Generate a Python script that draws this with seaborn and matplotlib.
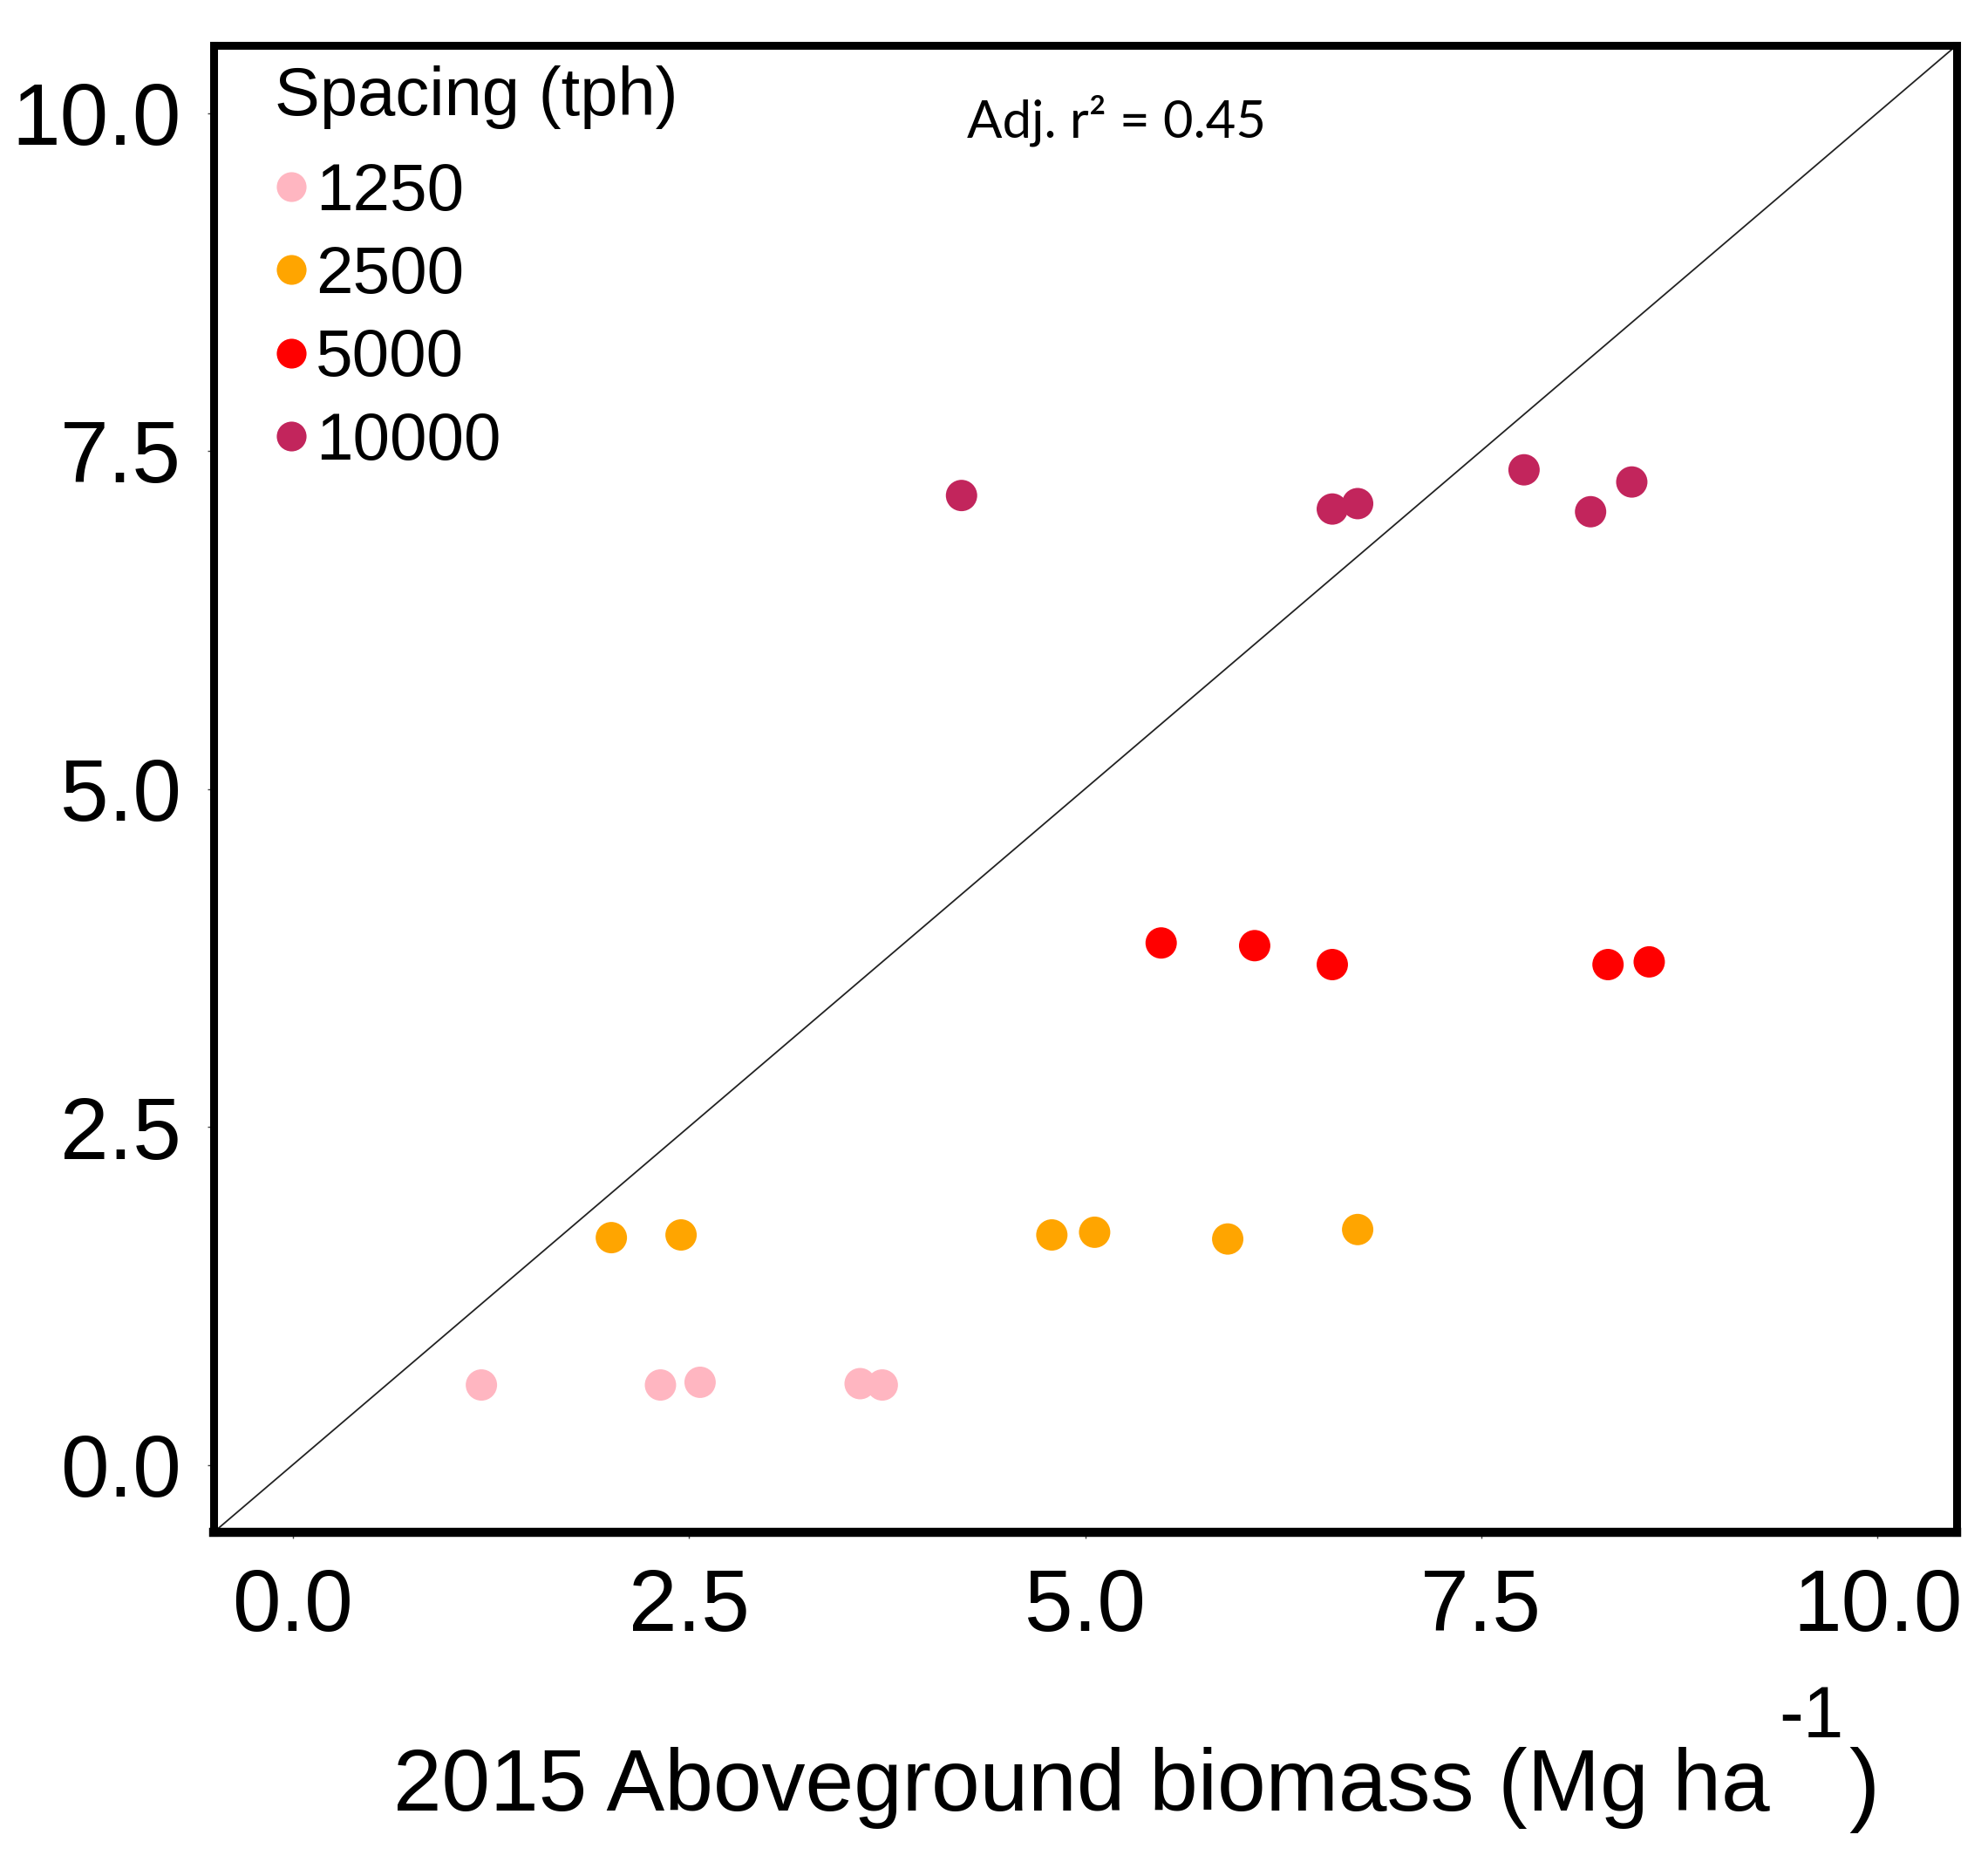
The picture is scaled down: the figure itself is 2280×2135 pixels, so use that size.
import seaborn as sns
import matplotlib.pyplot as plt
import matplotlib.ticker as mticker
import pandas as pd

# values
x_1250 = [1.19, 2.32, 2.57, 3.58, 3.72]
y_1250 = [0.59, 0.59, 0.61, 0.60, 0.59]
x_2500 = [2.01, 2.45, 4.79, 5.06, 5.90, 6.72]
y_2500 = [1.68, 1.70, 1.70, 1.72, 1.67, 1.74]
x_5000 = [5.48, 6.07, 6.56, 8.30, 8.56]
y_5000 = [3.86, 3.84, 3.70, 3.70, 3.72]
x_10000 = [4.22, 6.56, 6.72, 7.77, 8.19, 8.45]
y_10000 = [7.17, 7.07, 7.11, 7.36, 7.05, 7.27]

spacings = ['1250', '2500', '5000', '10000']
colores = {'1250': '#FFB6C1', '2500': '#FFA500', '5000': '#FF0000', '10000': '#C2255C'}
ticks = [0.0, 2.5, 5.0, 7.5, 10.0]

xs = [x_1250, x_2500, x_5000, x_10000]
ys = [y_1250, y_2500, y_5000, y_10000]
datos = pd.concat([pd.DataFrame({'x': xx, 'y': yy, 'Spacing': sp})
                   for xx, yy, sp in zip(xs, ys, spacings)], ignore_index=True)

sns.set_style('white')
plt.rcParams['font.family'] = ['Liberation Sans', 'DejaVu Sans']
plt.rcParams['text.color'] = 'black'
plt.rcParams['xtick.color'] = 'black'
plt.rcParams['ytick.color'] = 'black'

W, H = 2280, 2135
fig = plt.figure(figsize=(W / 100, H / 100), dpi=100)
ax = fig.add_axes([245 / W, 1 - 1757 / H, (2244 - 245) / W, (1757 - 52) / H])

ax.axline((0, 0), slope=1, color='#222222', lw=1.3, zorder=1)
sns.scatterplot(data=datos, x='x', y='y', hue='Spacing', hue_order=spacings,
                palette=colores, s=670, linewidth=0, ax=ax, zorder=3)

ax.set_xlim(-0.5, 10.5)
ax.set_ylim(-0.5, 10.5)
ax.set_xticks(ticks)
ax.set_yticks(ticks)
ax.xaxis.set_major_formatter(mticker.FormatStrFormatter('%.1f'))
ax.yaxis.set_major_formatter(mticker.FormatStrFormatter('%.1f'))
ax.set_xlabel('')
ax.set_ylabel('')
ax.tick_params(axis='both', which='major', labelsize=72, direction='out',
               length=5, width=1, color='#444444', bottom=True, left=True,
               labelcolor='black')
ax.tick_params(axis='y', pad=22)
ax.tick_params(axis='x', pad=24)
for s in ax.spines.values():
    s.set_visible(True)
    s.set_linewidth(6.5)
    s.set_color('black')
ax.spines['bottom'].set_linewidth(7.5)

handles, labels = ax.get_legend_handles_labels()
leg = ax.legend(handles, labels, title='Spacing (tph)', loc='upper left',
                bbox_to_anchor=(0.035, 0.9865), frameon=False, fontsize=55,
                title_fontsize=56, handlelength=0.5, handletextpad=0.12,
                labelspacing=0.32, borderpad=0, borderaxespad=0,
                alignment='left', markerscale=0.95)
leg._legend_box.sep = 27

fig.text(1109 / W, 1 - 157 / H, 'Adj. r² = 0.45', family=['Lato', 'DejaVu Sans'],
         fontsize=43, va='baseline', ha='left')

# x label in pieces (the superscript sits far off in the original)
fig.text(451 / W, 1 - 2076 / H, '2015 Aboveground biomass (Mg ha',
         fontsize=72, va='baseline', ha='left')
fig.text(2040 / W, 1 - 1992 / H, '-1', fontsize=60, va='baseline', ha='left')
fig.text(2120 / W, 1 - 2080 / H, ')', fontsize=76, va='baseline', ha='left')

plt.savefig('out.png', dpi=100)
plt.close('all')
